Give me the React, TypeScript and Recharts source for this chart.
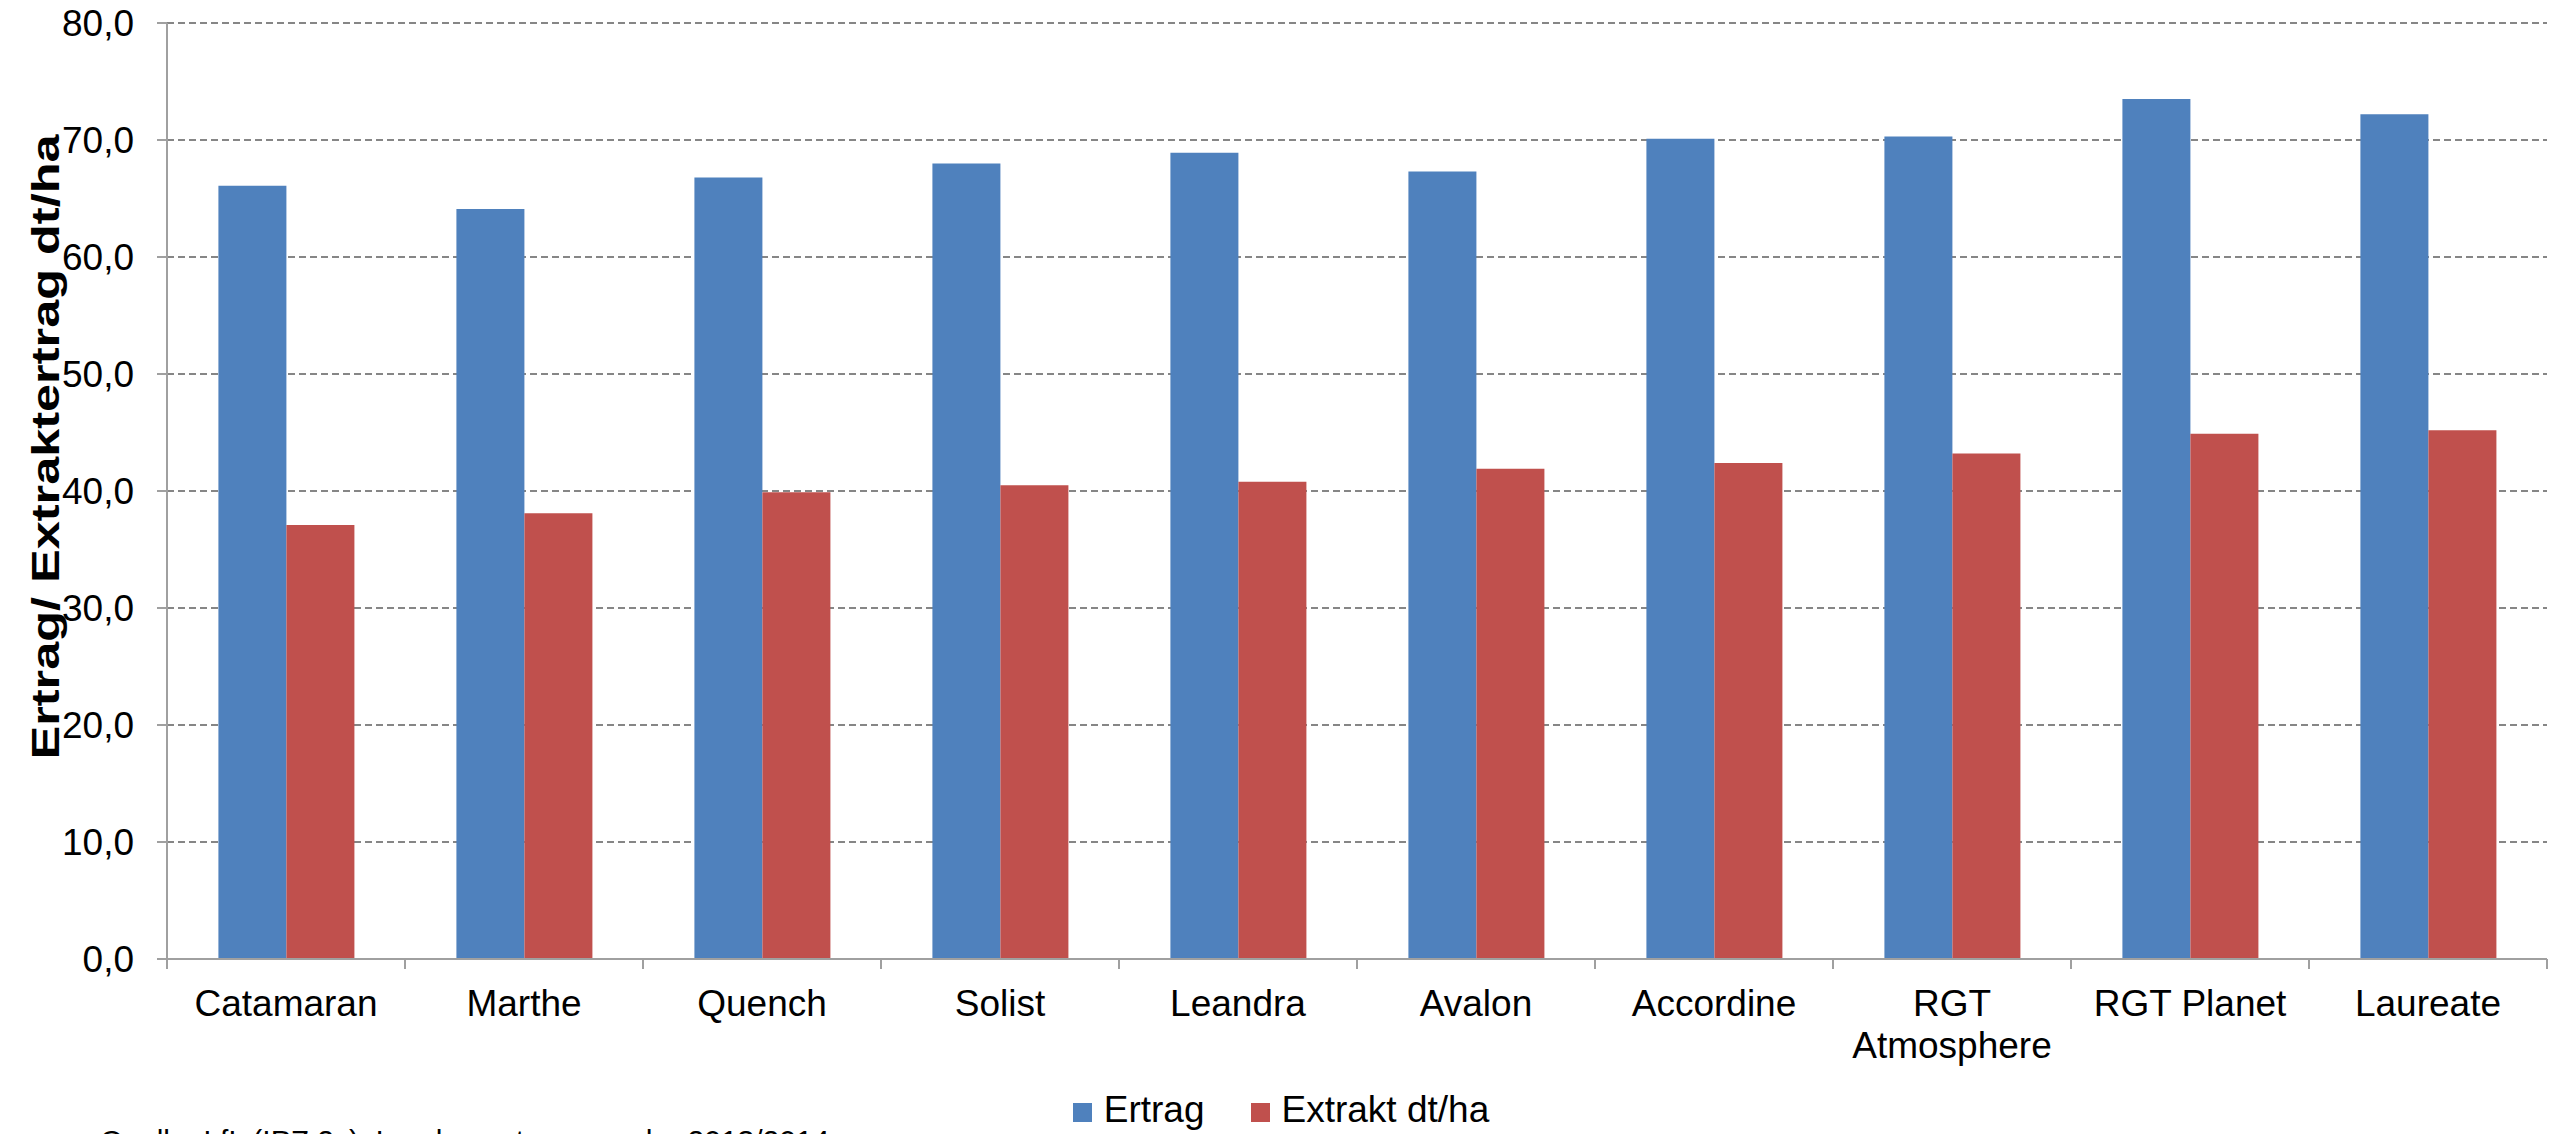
import { Bar, BarChart, CartesianGrid, Legend, XAxis, YAxis } from 'recharts';

const varieties = [
  'Catamaran',
  'Marthe',
  'Quench',
  'Solist',
  'Leandra',
  'Avalon',
  'Accordine',
  'RGT Atmosphere',
  'RGT Planet',
  'Laureate',
];
const ertrag = [66.1, 64.1, 66.8, 68.0, 68.9, 67.3, 70.1, 70.3, 73.5, 72.2];
const extrakt = [37.1, 38.1, 39.9, 40.5, 40.8, 41.9, 42.4, 43.2, 44.9, 45.2];
const yTicks = [0, 10, 20, 30, 40, 50, 60, 70, 80];

const FONT = '"Liberation Sans", Arial, sans-serif';
const BLUE = '#4F81BD';
const RED = '#C0504D';
const AXIS = '#A0A0A0';
const TICK_MARGIN = 21;
const TICK_SIZE = 10;
const LABEL_SIZE = 37;

const data = varieties.map((name, i) => ({ name, ertrag: ertrag[i], extrakt: extrakt[i] }));

const fmt = (v: number) => v.toFixed(1).replace('.', ',');

let ctx: CanvasRenderingContext2D | null = null;
function wrapWords(label: string, maxWidth: number) {
  if (!ctx) ctx = document.createElement('canvas').getContext('2d');
  if (!ctx) return [label];
  ctx.font = `${LABEL_SIZE}px ${FONT}`;
  const lines: string[] = [];
  let current = '';
  for (const word of label.split(' ')) {
    const next = current ? `${current} ${word}` : word;
    if (current && ctx.measureText(next).width > maxWidth) {
      lines.push(current);
      current = word;
    } else {
      current = next;
    }
  }
  if (current) lines.push(current);
  return lines;
}

// category label + Excel-style tick marks between the categories
// eslint-disable-next-line @typescript-eslint/no-explicit-any
function CategoryTick({ x, y, payload, width, visibleTicksCount, index }: any) {
  const band = width / visibleTicksCount;
  const axisY = y - TICK_MARGIN - TICK_SIZE;
  const left = x - band / 2;
  const lines = wrapWords(String(payload.value), band - 10);
  return (
    <g>
      <line x1={left} x2={left} y1={axisY} y2={axisY + TICK_SIZE} stroke={AXIS} strokeWidth={2} />
      {index === visibleTicksCount - 1 ? (
        <line
          x1={left + band}
          x2={left + band}
          y1={axisY}
          y2={axisY + TICK_SIZE}
          stroke={AXIS}
          strokeWidth={2}
        />
      ) : null}
      <text x={x} y={y + 26} textAnchor="middle" fontSize={LABEL_SIZE} fontFamily={FONT} fill="#000">
        {lines.map((line, i) => (
          <tspan key={line} x={x} dy={i === 0 ? 0 : 42}>
            {line}
          </tspan>
        ))}
      </text>
    </g>
  );
}

function YTitle() {
  return (
    <text
      transform="translate(59, 447) rotate(-90)"
      x={0}
      y={0}
      textAnchor="middle"
      fontFamily={FONT}
      fontWeight="bold"
      fontSize={38}
      textLength={625}
      lengthAdjust="spacingAndGlyphs"
      fill="#000"
    >
      Ertrag/ Extraktertrag dt/ha
    </text>
  );
}

function LegendContent() {
  const items = [
    { label: 'Ertrag', color: BLUE },
    { label: 'Extrakt dt/ha', color: RED },
  ];
  return (
    <div style={{ textAlign: 'center', fontFamily: FONT, fontSize: 37, lineHeight: '40px', color: '#000' }}>
      {items.map((it, i) => (
        <span key={it.label} style={{ marginLeft: i ? 46 : 0, whiteSpace: 'nowrap' }}>
          <span
            style={{ display: 'inline-block', width: 19, height: 19, background: it.color, marginRight: 12 }}
          />
          {it.label}
        </span>
      ))}
    </div>
  );
}

export default function App() {
  return (
    <div
      style={{
        position: 'absolute',
        left: 0,
        top: 0,
        width: 2562,
        height: 1134,
        overflow: 'hidden',
        background: '#fff',
      }}
    >
      <BarChart
        width={2562}
        height={1134}
        data={data}
        margin={{ top: 23, right: 15, left: 0, bottom: 35 }}
        barCategoryGap="21.6%"
        barGap={0}
      >
        <CartesianGrid vertical={false} stroke="#868686" strokeWidth={2} strokeDasharray="7 4" />
        <XAxis
          dataKey="name"
          interval={0}
          height={100}
          axisLine={{ stroke: AXIS, strokeWidth: 2 }}
          tickLine={false}
          tickSize={TICK_SIZE}
          tickMargin={TICK_MARGIN}
          tick={<CategoryTick />}
        />
        <YAxis
          width={167}
          domain={[0, 80]}
          ticks={yTicks}
          tickFormatter={fmt}
          axisLine={{ stroke: AXIS, strokeWidth: 2 }}
          tickLine={{ stroke: AXIS, strokeWidth: 2 }}
          tickSize={10}
          tickMargin={23}
          tick={{ fontSize: 37, fontFamily: FONT, fill: '#000' }}
          label={<YTitle />}
        />
        <Legend
          verticalAlign="bottom"
          height={40}
          content={<LegendContent />}
          wrapperStyle={{ top: 1090, bottom: 'auto', left: 0, width: 2562 }}
        />
        <Bar dataKey="ertrag" name="Ertrag" fill={BLUE} isAnimationActive={false} />
        <Bar dataKey="extrakt" name="Extrakt dt/ha" fill={RED} isAnimationActive={false} />
      </BarChart>
      <div
        style={{
          position: 'absolute',
          left: 100,
          top: 1124,
          fontFamily: FONT,
          fontSize: 30,
          whiteSpace: 'nowrap',
          color: '#000',
        }}
      >
        Quelle: LfL (IPZ 2c), Landessortenversuche 2013/2014
      </div>
    </div>
  );
}
